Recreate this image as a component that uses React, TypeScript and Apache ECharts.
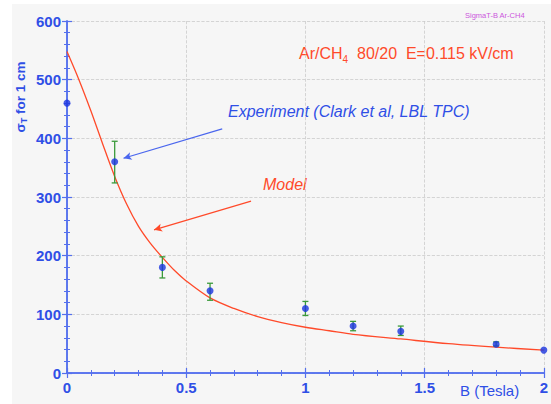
import React, { useEffect, useRef } from "react";
import * as echarts from "echarts";

const xTicks = [0, 0.5, 1, 1.5, 2];
const yTicks = [0, 100, 200, 300, 400, 500, 600];

const expB = [0, 0.2, 0.4, 0.6, 1.0, 1.2, 1.4, 1.8, 2.0];
const expSigma = [460, 360, 180, 140, 110, 80, 71, 49, 39];
const errLow = [null, 324, 162, 124, 98, 72, 64, 46, null];
const errHigh = [null, 395, 198, 153, 122, 88, 80, 53, null];

const modelB = [0, 0.05, 0.1, 0.15, 0.2, 0.25, 0.3, 0.35, 0.4, 0.45, 0.5, 0.6, 0.7, 0.8, 0.9, 1.0, 1.1, 1.2, 1.4, 1.6, 1.8, 2.0];
const modelSigma = [548, 500, 447, 390, 335, 288, 250, 221, 197, 175, 157, 128, 110, 96, 86, 78, 72, 66, 58, 50, 44, 39];

const expArrow = [[0.651, 416], [0.237, 366]];
const modelArrow = [[0.772, 293], [0.365, 244]];

const BLUE = "#2f4fe6";
const AXIS = "#5570ee";
const RED = "#ff4a2a";
const GREEN = "#3a9a3a";
const FONT = "'Liberation Sans', Arial, sans-serif";

export default function App() {
  const ref = useRef<HTMLDivElement>(null);
  useEffect(() => {
    if (!ref.current) return;
    const chart = echarts.init(ref.current, null, { renderer: "svg" });
    const errData = expB
      .map((b, i) => [b, errLow[i], errHigh[i]])
      .filter((d) => d[1] != null);
    const baseAxis = {
      type: "value" as const,
      axisLine: { show: true, lineStyle: { color: AXIS, width: 1.5 } },
      axisTick: { show: true, inside: true, length: 5, lineStyle: { color: AXIS, width: 1.2 } },
      minorTick: { show: true, splitNumber: 5, length: 3, lineStyle: { color: AXIS, width: 1 } },
    };
    chart.setOption({
      animation: false,
      backgroundColor: "#f6f6f6",
      grid: { left: 67, right: 2, top: 21, bottom: 31, containLabel: false },
      xAxis: [
        {
          ...baseAxis,
          position: "bottom",
          min: xTicks[0],
          max: xTicks[xTicks.length - 1],
          interval: 0.5,
          axisLabel: {
            color: BLUE,
            fontSize: 15,
            fontWeight: "bold",
            fontFamily: FONT,
            margin: 7,
            formatter: (v: number) => String(v),
          },
          splitLine: { show: true, lineStyle: { color: "#cccccc", type: "dashed", width: 0.8 } },
        },
        {
          ...baseAxis,
          position: "top",
          min: xTicks[0],
          max: xTicks[xTicks.length - 1],
          interval: 0.5,
          axisLabel: { show: false },
          splitLine: { show: false },
        },
      ],
      yAxis: [
        {
          ...baseAxis,
          position: "left",
          min: yTicks[0],
          max: yTicks[yTicks.length - 1],
          interval: 100,
          axisLabel: {
            color: BLUE,
            fontSize: 15,
            fontWeight: "bold",
            fontFamily: FONT,
            margin: 6,
          },
          splitLine: { show: true, lineStyle: { color: "#cccccc", type: "dashed", width: 0.8 } },
        },
        {
          ...baseAxis,
          position: "right",
          min: yTicks[0],
          max: yTicks[yTicks.length - 1],
          interval: 100,
          axisLabel: { show: false },
          splitLine: { show: false },
        },
      ],
      series: [
        {
          type: "line",
          data: modelB.map((b, i) => [b, modelSigma[i]]),
          smooth: 0.3,
          symbol: "none",
          lineStyle: { color: RED, width: 1.3 },
          z: 2,
          markLine: {
            silent: true,
            symbol: ["none", "arrow"],
            symbolSize: [6, 8],
            label: { show: false },
            lineStyle: { color: RED, width: 1.2, type: "solid" },
            data: [[{ coord: modelArrow[0] }, { coord: modelArrow[1] }]],
          },
        },
        {
          type: "custom",
          data: errData,
          z: 3,
          renderItem: (params: any, api: any) => {
            const x = api.value(0);
            const lo = api.coord([x, api.value(1)]);
            const hi = api.coord([x, api.value(2)]);
            const c = 3;
            return {
              type: "group",
              children: [
                { type: "line", shape: { x1: lo[0], y1: lo[1], x2: hi[0], y2: hi[1] }, style: { stroke: GREEN, lineWidth: 1.3 } },
                { type: "line", shape: { x1: lo[0] - c, y1: lo[1], x2: lo[0] + c, y2: lo[1] }, style: { stroke: GREEN, lineWidth: 1.3 } },
                { type: "line", shape: { x1: hi[0] - c, y1: hi[1], x2: hi[0] + c, y2: hi[1] }, style: { stroke: GREEN, lineWidth: 1.3 } },
              ],
            };
          },
        },
        {
          type: "scatter",
          data: expB.map((b, i) => [b, expSigma[i]]),
          symbol: "circle",
          symbolSize: 7,
          clip: false,
          itemStyle: { color: "#1a35e0" },
          z: 4,
          markLine: {
            silent: true,
            symbol: ["none", "arrow"],
            symbolSize: [6, 8],
            label: { show: false },
            lineStyle: { color: "#4a66ee", width: 1.2, type: "solid" },
            data: [[{ coord: expArrow[0] }, { coord: expArrow[1] }]],
          },
        },
      ],
      graphic: [
        { type: "rect", left: 0, top: 0, shape: { width: 12, height: 404 }, style: { fill: "#ffffff" }, silent: true, z: -10 },
        { type: "rect", left: 0, top: 0, shape: { width: 551, height: 4 }, style: { fill: "#ffffff" }, silent: true, z: -10 },
        {
          type: "text",
          x: 20,
          y: 97,
          rotation: Math.PI / 2,
          style: {
            text: "σ{sub|T} for 1 cm",
            fill: BLUE,
            font: `bold 13.5px ${FONT}`,
            align: "center",
            verticalAlign: "middle",
            rich: { sub: { fontSize: 9, fontWeight: "bold", fill: BLUE, fontFamily: FONT, padding: [8, 0, 0, 0] } },
          },
        },
        {
          type: "text",
          x: 299,
          y: 53,
          style: {
            text: "Ar/CH{sub|4}  80/20  E=0.115 kV/cm",
            fill: RED,
            font: `16px ${FONT}`,
            verticalAlign: "middle",
            rich: { sub: { fontSize: 10, fill: RED, fontFamily: FONT, padding: [12, 0, 0, 0] } },
          },
        },
        {
          type: "text",
          x: 465,
          y: 15,
          style: { text: "SigmaT-B Ar-CH4", fill: "#cc55dd", font: `7.5px ${FONT}`, verticalAlign: "middle" },
        },
        {
          type: "text",
          x: 228,
          y: 111,
          style: { text: "Experiment (Clark et al, LBL TPC)", fill: BLUE, font: `italic 16px ${FONT}`, verticalAlign: "middle" },
        },
        {
          type: "text",
          x: 263,
          y: 184,
          style: { text: "Model", fill: RED, font: `italic 16px ${FONT}`, verticalAlign: "middle" },
        },
        {
          type: "text",
          x: 460,
          y: 390,
          style: { text: "B (Tesla)", fill: BLUE, font: `15px ${FONT}`, verticalAlign: "middle" },
        },
      ],
    });
    return () => chart.dispose();
  }, []);
  return <div ref={ref} style={{ position: "absolute", left: 0, top: 0, width: 551, height: 404 }} />;
}
